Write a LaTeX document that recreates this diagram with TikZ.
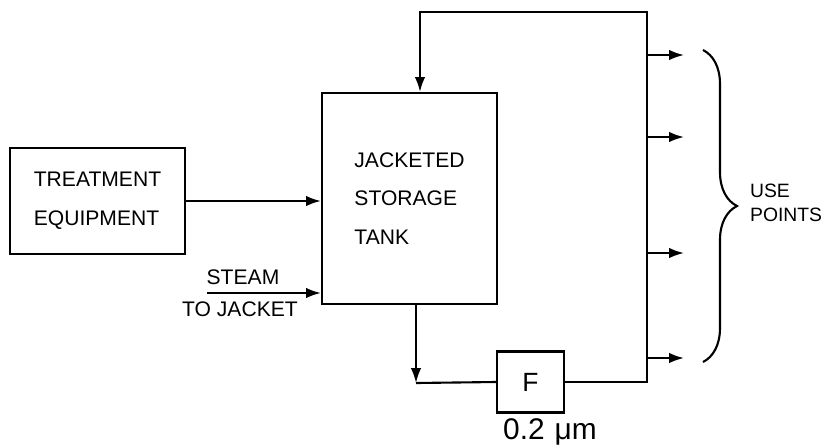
\documentclass[tikz,border=0pt]{standalone}
\usepackage{fontspec}
\setmainfont{Liberation Sans}
\usetikzlibrary{arrows.meta,positioning,decorations.pathreplacing}
\tikzset{
  >={Latex[length=8.5pt,width=6pt]},
  unit/.style={rectangle,draw=black,line width=1.2pt,inner sep=0pt,align=left,font=\fontsize{12}{22}\selectfont},
  flow/.style={->,line width=1.2pt},
  pipe/.style={line width=1.2pt},
  lab/.style={font=\fontsize{12}{14}\selectfont,inner sep=1pt},
  usebrace/.style={decorate,decoration={brace,amplitude=0.68cm},line width=1.2pt}
}

\begin{document}
\begin{tikzpicture}[x=0.02cm,y=-0.02cm]
    \useasboundingbox (0,0) rectangle (826,447);
    % units
    \node[unit,minimum width=3.5cm,minimum height=2.12cm] (treat) at (97.5,201) {TREATMENT\\EQUIPMENT};
    \node[unit,minimum width=3.5cm,minimum height=4.22cm] (tank) at (409.5,198.5) {JACKETED\\STORAGE\\TANK};
    \node[unit,minimum width=1.34cm,minimum height=1.22cm,font=\fontsize{15}{18}\selectfont] (filt) at (530.5,382) {F};
    \node[lab,font=\fontsize{17}{20}\selectfont] (pore) at (550,432) {0.2\,\,μm};
    % feed and steam
    \draw[flow] (treat.east) -- (treat.east -| tank.west);
    \coordinate (steam) at (207,293);
    \draw[flow] (steam) -- (steam -| tank.west);
    \node[lab] (steamlab) at (243,277) {STEAM};
    \node[lab] (jacketlab) at (240,309) {TO JACKET};
    % recirculation loop
    \coordinate (corner) at (416,383);
    \coordinate (loopr) at (647,12);
    \coordinate (loopl) at (420,12);
    \draw[flow] (corner |- tank.south) -- (corner);
    \draw[pipe] (corner) -- (filt.west);
    \draw[flow] (filt.east) -| (loopr) -- (loopl) -- (loopl |- tank.north);
    % use points
    \foreach \i/\yy in {1/55,2/137,3/253,4/358} {
      \coordinate (tap\i) at (647,\yy);
      \coordinate (pt\i) at (684,\yy);
      \draw[flow] (tap\i) -- (pt\i);
    }
    \coordinate (bracetop) at (703,50);
    \coordinate (bracebot) at (703,362);
    \draw[usebrace] (bracetop) -- (bracebot);
    \node[lab,align=left,anchor=west,font=\fontsize{11}{14}\selectfont] (uselab) at (748,203) {USE\\POINTS};
\end{tikzpicture}
\end{document}
